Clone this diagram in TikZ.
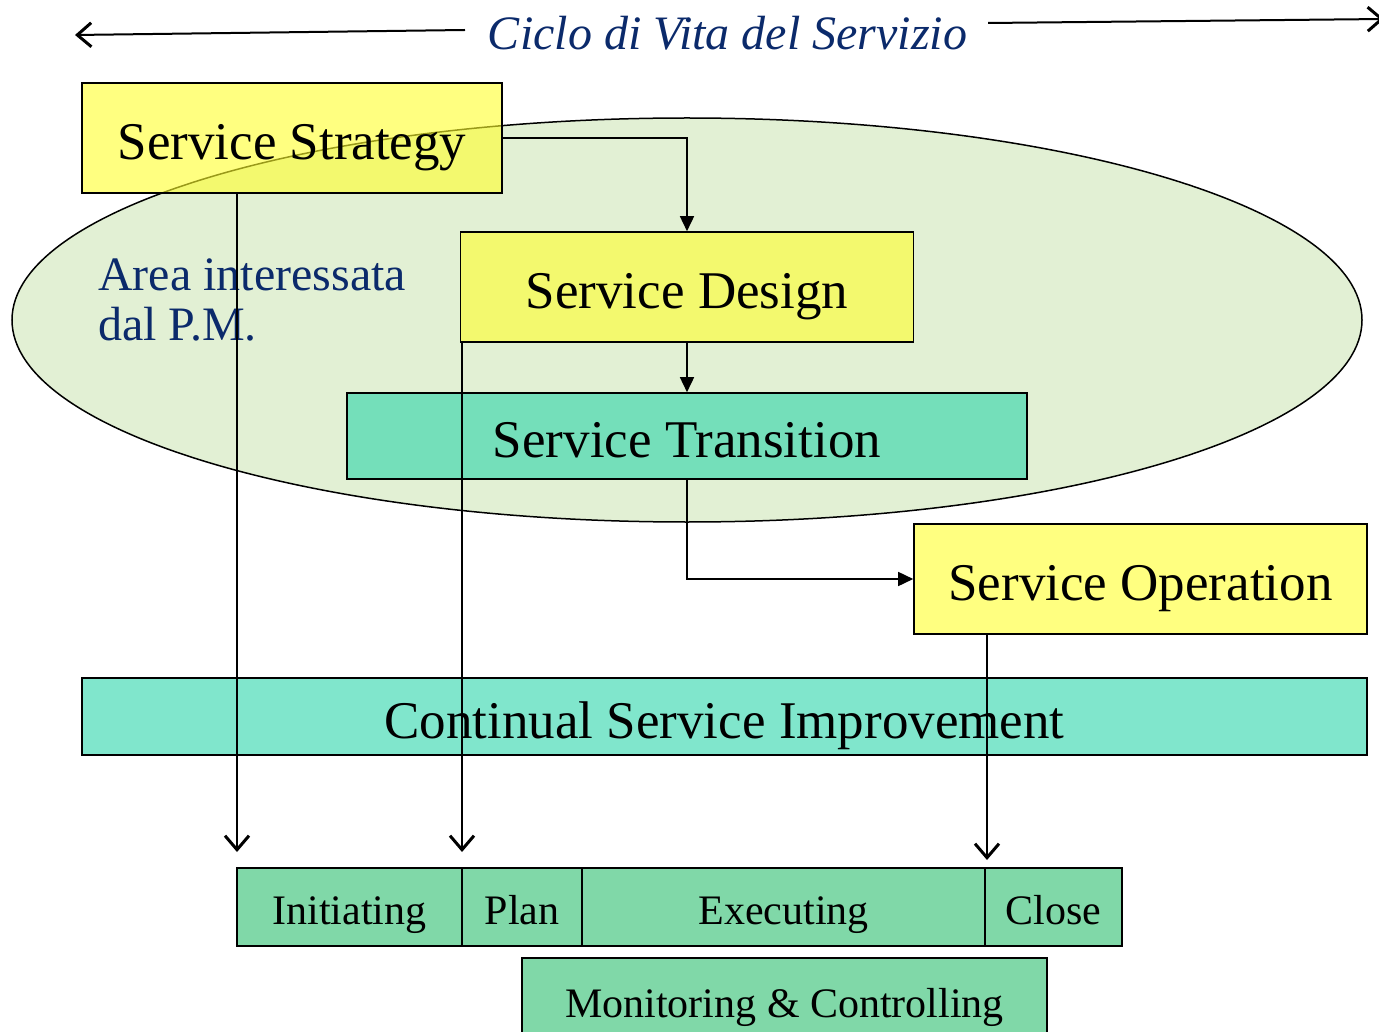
\documentclass[tikz,border=0pt]{standalone}
\usepackage{fontspec}
\setmainfont{Liberation Serif}
\usetikzlibrary{arrows.meta,calc}
\definecolor{ellfill}{HTML}{E2F0D4}
\definecolor{ylw}{RGB}{255,255,43}
\definecolor{teal2}{RGB}{43,213,170}
\definecolor{grn}{HTML}{80D8A8}
\definecolor{navy}{HTML}{0B2A6B}
\tikzset{
  bigbox/.style={draw=black, line width=1.6pt, inner sep=0pt, text height=43pt, text depth=0pt,
     font=\fontsize{53}{60}\selectfont},
  ybox/.style={bigbox, fill=ylw, fill opacity=0.6, text opacity=1},
  tbox/.style={bigbox, fill=teal2, fill opacity=0.6, text opacity=1},
  phase/.style={draw=black, line width=1.6pt, fill=grn, inner sep=0pt, text height=34pt, text depth=0pt,
     minimum height=78pt, font=\fontsize{42}{48}\selectfont},
  conn/.style={line width=1.6pt, -{Triangle[length=15pt,width=14pt]}},
  down/.style={line width=1.6pt, -{Straight Barb[length=14pt,width=24pt,line width=3pt]}},
  topar/.style={line width=2pt, -{Straight Barb[length=14pt,width=24pt,line width=3pt]}}
}
\begin{document}
\begin{tikzpicture}[x=1pt,y=-1pt]
\useasboundingbox (0,0) rectangle (1379,1032);
% ellipse area
\draw[line width=1.5pt, fill=ellfill] (687,320) ellipse [x radius=675, y radius=202];
% title
\node[anchor=base, inner sep=0pt, text=navy, font=\fontsize{48}{54}\selectfont\itshape] (title) at (727.5,50) {Ciclo di Vita del Servizio};
\coordinate (tls) at (465,30);
\coordinate (tle) at (75,35);
\coordinate (trs) at (988,23);
\coordinate (tre) at (1384,19);
\draw[topar] (tls) -- (tle);
\draw[topar] (trs) -- (tre);
% area label
\node[anchor=north west, inner sep=0pt, align=left, text=navy, font=\fontsize{48}{50}\selectfont] (area) at (98,259) {Area interessata\\dal P.M.};
% boxes
\node[ybox, minimum width=420pt, minimum height=110pt] (s) at (292,138) {Service Strategy};
\node[ybox, minimum width=453pt, minimum height=110pt] (d) at (687,287) {Service Design};
\node[tbox, minimum width=680pt, minimum height=86pt] (t) at (687,436) {Service Transition};
\node[ybox, minimum width=453pt, minimum height=110pt] (o) at (1140.5,579) {Service Operation};
\node[tbox, minimum width=1285pt, minimum height=77pt] (csi) at (724.5,716.5) {Continual Service Improvement};
% phases
\node[phase, minimum width=225pt] (ini) at (349.5,907) {Initiating};
\node[phase, minimum width=120pt] (plan) at (522,907) {Plan};
\node[phase, minimum width=403pt] (exe) at (783.5,907) {Executing};
\node[phase, minimum width=137pt] (close) at (1053.5,907) {Close};
\node[phase, minimum width=525pt, minimum height=84pt] (mon) at (784.5,1000) {Monitoring \& Controlling};
% connectors
\draw[conn] (s.east) -| (d.north);
\draw[conn] (d.south) -- (t.north);
\draw[conn] (t.south) |- (o.west);
\coordinate (se) at (237,852);
\coordinate (de) at (462,852);
\coordinate (oe) at (987,860);
\draw[down] (se |- s.south) -- (se);
\draw[down] (de |- d.south) -- (de);
\draw[down] (oe |- o.south) -- (oe);
\end{tikzpicture}
\end{document}
